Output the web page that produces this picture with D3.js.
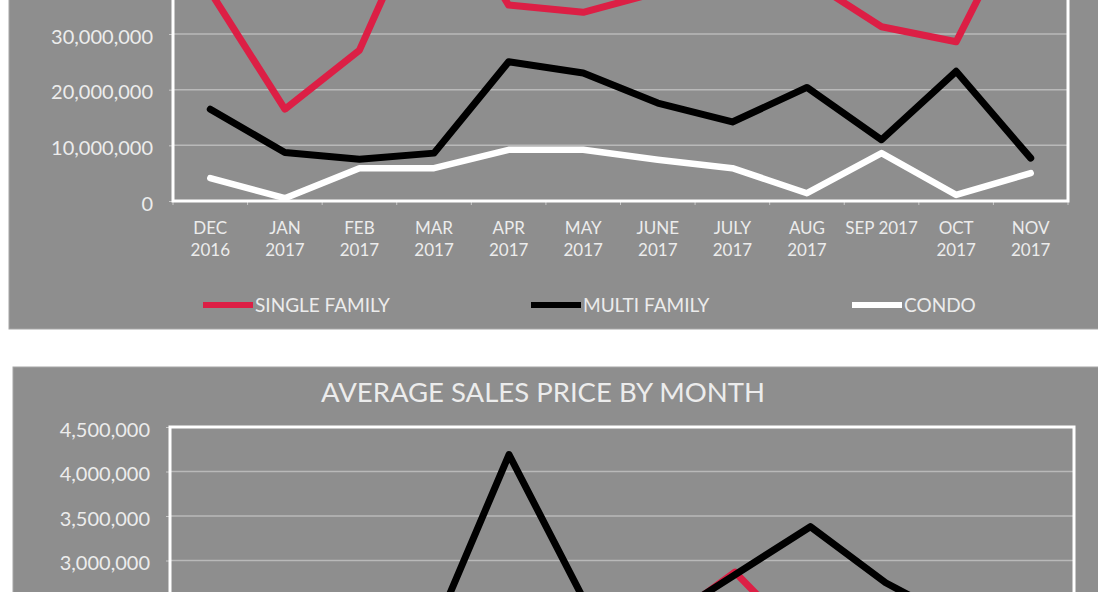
<!DOCTYPE html>
<html lang="en">
<head>
    <meta charset="UTF-8">
    <title>Sales by Month</title>
    <script src="https://d3js.org/d3.v7.min.js"></script>
    <style>
        body, html {
            margin: 0;
            padding: 0;
            background: #ffffff;
            overflow: hidden;
        }
        svg {
            display: block;
        }
    </style>
</head>
<body>
    <svg width="1098" height="592"></svg>
    <script>
        const months = ["DEC 2016", "JAN 2017", "FEB 2017", "MAR 2017", "APR 2017", "MAY 2017",
                        "JUNE 2017", "JULY 2017", "AUG 2017", "SEP 2017", "OCT 2017", "NOV 2017"];
        const monthLabels = [["DEC", "2016"], ["JAN", "2017"], ["FEB", "2017"], ["MAR", "2017"],
                             ["APR", "2017"], ["MAY", "2017"], ["JUNE", "2017"], ["JULY", "2017"],
                             ["AUG", "2017"], ["SEP 2017"], ["OCT", "2017"], ["NOV", "2017"]];
        const seriesNames = ["SINGLE FAMILY", "MULTI FAMILY", "CONDO"];
        const seriesColors = ["#dc1f45", "#000000", "#ffffff"];

        // top chart (sales volume), cropped at the top of the picture
        const volumeSingle = [37600000, 16500000, 27100000, 57000000, 35200000, 33900000,
                              37500000, 44000000, 39900000, 31300000, 28600000, 55000000];
        const volumeMulti = [16500000, 8700000, 7500000, 8600000, 25000000, 23000000,
                             17600000, 14200000, 20400000, 11000000, 23300000, 7700000];
        const volumeCondo = [4100000, 500000, 5900000, 5900000, 9200000, 9200000,
                             7400000, 5900000, 1400000, 8600000, 1100000, 5000000];
        // only the ticks that are inside the picture
        const volumeTicks = [0, 10000000, 20000000, 30000000];

        // bottom chart (average price), cropped at the bottom of the picture
        const priceTitle = "AVERAGE SALES PRICE BY MONTH";
        const priceSingle = [1500000, 1700000, 1400000, 1600000, 1900000, 1800000,
                             2250000, 2870000, 2000000, 1900000, 1700000, 2200000];
        const priceMulti = [1800000, 2100000, 1600000, 2200000, 4190000, 2550000,
                            2300000, 2840000, 3380000, 2750000, 2300000, 2000000];
        const priceCondo = [600000, 450000, 700000, 800000, 900000, 750000,
                            650000, 850000, 500000, 900000, 400000, 700000];
        const priceTicks = [3000000, 3500000, 4000000, 4500000];

        const svg = d3.select("svg");
        const font = "Lato, 'Open Sans', sans-serif";
        const textColor = "#ececec";

        function drawChart(opts) {
            const g = svg.append("g");

            g.append("rect")
                .attr("x", opts.panel[0]).attr("y", opts.panel[1])
                .attr("width", opts.panel[2]).attr("height", opts.panel[3])
                .attr("fill", "#8e8e8e")
                .attr("stroke", "#a6a6a6");

            const x = d3.scaleBand().domain(months).range([opts.left, opts.right]);
            const y = d3.scaleLinear().domain([0, opts.max]).range([opts.bottom, opts.top]);

            // gridlines
            g.append("g").selectAll("line")
                .data(opts.ticks.filter(d => d > 0 && d < opts.max))
                .join("line")
                .attr("x1", opts.left).attr("x2", opts.right)
                .attr("y1", d => y(d)).attr("y2", d => y(d))
                .attr("stroke", "#b9b9b9")
                .attr("stroke-width", 1.5);

            // y axis
            const yAxis = g.append("g")
                .attr("transform", `translate(${opts.left},0)`)
                .call(d3.axisLeft(y).tickValues(opts.ticks).tickFormat(d3.format(",")).tickSize(4).tickPadding(16));
            yAxis.select(".domain").remove();
            yAxis.selectAll(".tick line").attr("stroke", "#c8c8c8");
            yAxis.selectAll(".tick text")
                .attr("fill", textColor)
                .attr("font-family", font)
                .attr("font-size", 20)
                .attr("dy", "0.45em");

            // x axis with two-line labels
            if (opts.xLabels) {
                const xAxis = g.append("g")
                    .attr("transform", `translate(0,${opts.bottom})`)
                    .call(d3.axisBottom(x).tickSize(0));
                xAxis.select(".domain").remove();
                xAxis.selectAll(".tick text").each(function(d, i) {
                    const t = d3.select(this).text(null)
                        .attr("y", 0).attr("dy", null)
                        .attr("fill", textColor)
                        .attr("font-family", font)
                        .attr("font-size", 17);
                    monthLabels[i].forEach((s, k) => {
                        t.append("tspan").attr("x", 0).attr("y", 33 + k * 22).text(s);
                    });
                });
            }
            // small ticks between categories
            g.append("g").selectAll("line")
                .data(months.map(m => x(m)).concat([opts.right]))
                .join("line")
                .attr("x1", d => d).attr("x2", d => d)
                .attr("y1", opts.bottom).attr("y2", opts.bottom + 4)
                .attr("stroke", "#c8c8c8");

            // plot area border
            g.append("rect")
                .attr("x", opts.left).attr("y", opts.top)
                .attr("width", opts.right - opts.left).attr("height", opts.bottom - opts.top)
                .attr("fill", "none")
                .attr("stroke", "#ffffff")
                .attr("stroke-width", 3);

            // series
            const line = d3.line()
                .x((d, i) => x(months[i]) + x.bandwidth() / 2)
                .y(d => y(d));
            g.append("g").selectAll("path")
                .data(opts.series)
                .join("path")
                .attr("d", d => line(d))
                .attr("fill", "none")
                .attr("stroke", (d, i) => seriesColors[i])
                .attr("stroke-width", (d, i) => i === 2 ? 6.5 : 7)
                .attr("stroke-linejoin", "round")
                .attr("stroke-linecap", "round");

            // title
            if (opts.title) {
                g.append("text")
                    .attr("x", opts.titleX).attr("y", opts.titleY)
                    .attr("text-anchor", "middle")
                    .attr("fill", textColor)
                    .attr("font-family", font)
                    .attr("font-size", 27.5)
                    .text(opts.title);
            }

            // legend
            if (opts.legendX) {
                const legend = g.append("g").selectAll("g")
                    .data(seriesNames)
                    .join("g")
                    .attr("transform", (d, i) => `translate(${opts.legendX[i]},${opts.legendY})`);
                legend.append("line")
                    .attr("x1", 0).attr("x2", 50)
                    .attr("stroke", (d, i) => seriesColors[i])
                    .attr("stroke-width", 6);
                legend.append("text")
                    .attr("x", 52).attr("dy", "0.36em")
                    .attr("fill", textColor)
                    .attr("font-family", font)
                    .attr("font-size", 19)
                    .text(d => d);
            }
        }

        drawChart({
            panel: [9, -400, 1100, 729],
            left: 173, right: 1068, top: -133, bottom: 201,
            max: 60000000,
            ticks: volumeTicks,
            series: [volumeSingle, volumeMulti, volumeCondo],
            xLabels: true,
            legendX: [203, 531, 852], legendY: 305
        });

        // the lower part of this chart (axis labels, legend) lies below the picture
        drawChart({
            panel: [13, 367, 1100, 600],
            left: 170, right: 1074, top: 427, bottom: 827.5,
            max: 4500000,
            ticks: priceTicks,
            series: [priceSingle, priceMulti, priceCondo],
            xLabels: false,
            title: priceTitle, titleX: 543, titleY: 402
        });
    </script>
</body>
</html>
